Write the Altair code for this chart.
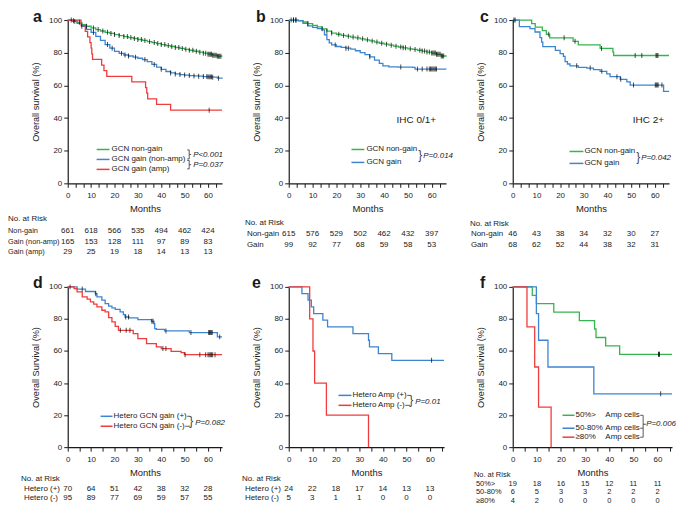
import altair as alt
import pandas as pd

FONT = "Liberation Sans, Arial, Helvetica, sans-serif"
GREEN = "#35b550"
BLUE = "#3d85d0"
RED = "#f03c3c"
INK = "#1a1a1a"

RISK_MONTHS = [0, 10, 20, 30, 40, 50, 60]
Y_TICKS = [0, 20, 40, 60, 80, 100]

# ---------------- panel a ----------------
A_NONGAIN_T = [0, 2, 4, 6, 8, 10, 12, 14, 16, 18, 20, 22, 24, 26, 28, 30, 32, 34, 36, 38,
               40, 42, 44, 46, 48, 50, 52, 54, 56, 58, 60, 62, 64, 66]
A_NONGAIN_S = [100, 99.6, 98.6, 97.2, 96.2, 95.2, 94.2, 93.3, 92.5, 91.8, 91.1, 90.5, 89.9, 89.3,
               88.7, 88.1, 87.5, 86.8, 86.2, 85.6, 85.0, 84.4, 83.8, 83.2, 82.6, 82.1, 81.5, 80.9,
               80.3, 79.7, 79.1, 78.5, 77.9, 77.7]
A_NONGAIN_C = [2.5, 5, 8, 11, 13, 15, 17, 18.5, 20, 22, 24, 25.5, 27, 28.5, 30, 31.5, 33, 35, 37,
               38.5, 40, 41.5, 43, 44.5, 46, 47.5, 49, 50.5, 52, 53.5, 55, 56.5, 58, 59, 60, 60.5,
               61, 61.5, 62, 62.5, 63, 63.5, 64, 64.5, 65, 65.5]
A_NONAMP_T = [0, 2, 4, 6, 8, 10, 12, 14, 16, 18, 20, 22, 24, 26, 28, 30, 32, 34, 36, 38,
              40, 42, 44, 46, 48, 50, 52, 54, 56, 58, 60, 62, 64, 66]
A_NONAMP_S = [100, 99.2, 98, 96.2, 94.3, 92.4, 90, 87.5, 85, 82.8, 80.8, 79.6, 78.6, 78, 77.3,
              76.6, 75.8, 74.5, 72.8, 71.2, 69.8, 68.5, 67.6, 67, 66.6, 66.3, 66, 65.8, 65.6,
              65.4, 65.2, 65, 64.4, 64]
A_NONAMP_C = [1.5, 3, 6, 11, 17, 19, 23, 24.5, 26, 29, 33, 37, 40, 44, 46, 48, 50, 52, 54, 56,
              58, 59.5, 60, 60.5, 61, 61.5, 62, 64.5]
A_AMP_T = [0, 5.7, 7.5, 8.5, 9.5, 10, 10.3, 10.6, 14.5, 15.5, 16.7, 27.4, 33.3, 33.8, 34.2, 38, 44, 66]
A_AMP_S = [100, 96.6, 93.1, 89.7, 86.2, 82.8, 79.3, 75.9, 72.4, 69.0, 65.5, 62.1, 58.6, 55.2,
           51.7, 48.3, 44.8, 44.8]
A_AMP_C = [60.5]
A_RISK_LABELS = ["Non-gain", "Gain (non-amp)", "Gain (amp)"]
A_RISK = [[661, 618, 566, 535, 494, 462, 424],
          [165, 153, 128, 111, 97, 89, 83],
          [29, 25, 19, 18, 14, 13, 13]]

# ---------------- panel b ----------------
B_NONGAIN_T = [0, 4, 6, 8, 10, 12, 14, 16, 18, 20, 22, 24, 26, 28, 30, 32, 34, 36, 38, 40,
               42, 44, 46, 48, 50, 52, 54, 56, 58, 60, 62, 64, 66]
B_NONGAIN_S = [100, 99.6, 98.8, 97.8, 96.8, 95.8, 94.6, 93.2, 92, 91.3, 90.6, 90.1, 89.6, 89.1,
               88.5, 87.9, 87.2, 86.5, 85.8, 85.2, 84.6, 84, 83.5, 83, 82.4, 82, 81.5, 81, 80.4,
               79.8, 79, 78, 77.5]
B_NONGAIN_C = [1, 2, 3, 8, 14, 16, 18, 21, 23, 25, 27, 29, 31, 33, 35, 37, 39, 41, 43, 45, 47,
               48, 49, 51, 53, 55, 56, 57, 58, 59, 60, 60.5, 61, 61.5, 62, 62.5, 63, 63.5, 64,
               64.5, 65]
B_GAIN_T = [0, 4, 6, 8, 10, 12, 14, 15, 16, 17, 18, 20, 22, 24, 26, 28, 30, 32, 34, 36, 38,
            39.5, 42, 46, 52, 53, 66]
B_GAIN_S = [100, 99.5, 98, 96.5, 95.5, 94.8, 94, 91, 88, 86, 84.8, 83.8, 83.3, 82.8, 82.2,
            81.2, 80, 78.8, 77.5, 75.5, 73.5, 72, 71.3, 71.2, 71, 70, 69.8]
B_GAIN_C = [2, 3, 19.5, 24, 25, 34, 47, 54, 56, 58, 59, 59.5, 60, 60.5, 61, 61.5, 62]
B_RISK_LABELS = ["Non-gain", "Gain"]
B_RISK = [[615, 576, 529, 502, 462, 432, 397],
          [99, 92, 77, 68, 59, 58, 53]]

# ---------------- panel c ----------------
C_NONGAIN_T = [0, 8, 9.5, 12.5, 14.2, 15.6, 25.5, 27.7, 36.9, 42.3, 42.6, 66]
C_NONGAIN_S = [100, 97.8, 95.7, 93.5, 91.3, 89.1, 87.0, 84.8, 82.6, 80.4, 78.3, 78.3]
C_NONGAIN_C = [0.5, 15.2, 21.7, 26.3, 37.5, 51.7, 54.5, 60.5, 60.9, 61.3]
C_GAIN_T = [0, 2.8, 7.3, 9.4, 11.5, 12.2, 12.7, 18, 20, 21.4, 22.1, 23.1, 24.2, 27.7, 31.3,
            34.1, 36.9, 39.7, 41.1, 45.4, 48.2, 49.6, 63.7, 66]
C_GAIN_S = [100, 96, 94.7, 92.7, 89.2, 86.5, 83.7, 81.4, 79.4, 77.8, 74.5, 73.1, 72, 71, 70.6,
            69.6, 68.6, 67, 65.3, 63.7, 62.2, 60.2, 56.3, 56.3]
C_GAIN_C = [1, 27, 32.7, 37.6, 44, 45.6, 51, 60.2, 60.6, 61, 61.4, 63]
C_RISK_LABELS = ["Non-gain", "Gain"]
C_RISK = [[46, 43, 38, 34, 32, 30, 27],
          [68, 62, 52, 44, 38, 32, 31]]

# ---------------- panel d ----------------
D_POS_T = [0, 4, 7.6, 11.8, 12.5, 14.6, 16, 17.5, 18.9, 20.3, 22.4, 23.8, 24.5, 26.2, 30,
           35.8, 36.9, 37.2, 37.9, 41.4, 52, 64, 66]
D_POS_S = [100, 98.6, 97.1, 95.7, 93.8, 91.7, 89.6, 88, 86.9, 86, 84.4, 82.7, 81.2, 80.6,
           79.6, 78.5, 77, 74, 73.5, 72.5, 71.5, 68.8, 68.8]
D_POS_C = [1, 6.2, 12, 24.8, 26, 36, 36.5, 42, 52.7, 60.3, 60.6, 61, 61.4, 61.8, 65]
D_NEG_T = [0, 2.7, 4, 6.2, 8.3, 9.7, 11.1, 12.5, 14.6, 16, 17.5, 18.9, 20.3, 21.7, 28, 30,
           33.7, 37.9, 40, 44.2, 48.5, 49.9, 66]
D_NEG_S = [100, 98.9, 96.9, 93.75, 92.3, 90.6, 89.2, 87.5, 85.4, 84.4, 80.8, 78.1, 75.4, 72.9,
           70.8, 67.7, 64.6, 62.5, 61.5, 59.8, 59, 57.7, 57.7]
D_NEG_C = [22.5, 25, 26.6, 40.7, 42, 50.2, 56.5, 59, 60, 60.5, 61, 61.5, 62, 63]
D_RISK_LABELS = ["Hetero (+)", "Hetero (-)"]
D_RISK = [[70, 64, 51, 42, 38, 32, 28],
          [95, 89, 77, 69, 59, 57, 55]]

# ---------------- panel e ----------------
E_POS_T = [0, 5.6, 8.2, 9.6, 10.6, 14.5, 16.5, 27.3, 33.9, 34.3, 38.1, 43.8, 66]
E_POS_S = [100, 95.8, 91.7, 87.5, 83.3, 79.2, 75, 70.8, 66.7, 62.5, 58.3, 54.2, 54.2]
E_POS_C = [60.7]
E_NEG_T = [0, 8.9, 10.3, 11, 16, 33.9]
E_NEG_S = [100, 80, 60, 40, 20, 0]
E_NEG_C = []
E_RISK_LABELS = ["Hetero (+)", "Hetero (-)"]
E_RISK = [[24, 22, 18, 17, 14, 13, 13],
          [5, 3, 1, 1, 0, 0, 0]]

# ---------------- panel f ----------------
F_LOW_T = [0, 8.1, 9.8, 17, 27.6, 33.9, 34.5, 38.5, 44.3, 66]
F_LOW_S = [100, 94.7, 89.5, 84.2, 78.9, 73.7, 68.4, 63.2, 57.9, 57.9]
F_LOW_C = [60.4, 60.6, 60.8]
F_MID_T = [0, 9.8, 10.7, 14.6, 33.6, 66]
F_MID_S = [100, 83.3, 66.7, 50, 33.3, 33.3]
F_MID_C = [61.3]
F_HIGH_T = [0, 5.9, 9.1, 10.7, 15.9]
F_HIGH_S = [100, 75, 50, 25, 0]
F_HIGH_C = []
F_RISK_LABELS = ["50%>", "50-80%", "\u226580%"]
F_RISK = [[19, 18, 16, 15, 12, 11, 11],
          [6, 5, 3, 3, 2, 2, 2],
          [4, 2, 0, 0, 0, 0, 0]]

DUMMY = pd.DataFrame({"d": [0]})


def step_at(T, S, t):
    v = S[0]
    for ti, si in zip(T, S):
        if ti <= t:
            v = si
    return v


def x_axis(minor):
    n = int(round(66 / minor))
    vals = [round(i * minor, 3) for i in range(n + 1) if i * minor <= 66.01]
    return alt.Axis(values=vals, labelExpr="datum.value % 10 === 0 ? datum.label : ''",
                    labelOverlap=False, title="Months", tickSize=4, labelPadding=4.5,
                    titlePadding=4, labelFontSize=8, titleFontSize=9.5, labelFlush=False)


def y_axis(title):
    return alt.Axis(values=Y_TICKS, title=title, tickSize=4, labelPadding=2, titlePadding=8,
                    labelFontSize=8, titleFontSize=9.2)


def text(x, y, s, size=8, align="left", style="normal", weight="normal", baseline="middle", color=INK):
    return alt.Chart(DUMMY).mark_text(text=s, align=align, baseline=baseline, fontSize=size, font=FONT,
                                      fontStyle=style, fontWeight=weight, color=color).encode(
        x=alt.value(x), y=alt.value(y))


def hline(x1, x2, y, color="#333333", w=0.8):
    return alt.Chart(DUMMY).mark_rule(color=color, strokeWidth=w).encode(
        x=alt.value(x1), x2=alt.value(x2), y=alt.value(y))


def vline(x, y1, y2, color="#333333", w=0.8):
    return alt.Chart(DUMMY).mark_rule(color=color, strokeWidth=w).encode(
        x=alt.value(x), y=alt.value(y1), y2=alt.value(y2))


def brace(x, y1, y2):
    """A drawn '}' between two legend rows."""
    mid = (y1 + y2) / 2
    return [hline(x - 2, x, y1 + 0.5), hline(x - 2, x, y2 - 0.5), vline(x, y1 + 0.5, y2 - 0.5),
            hline(x, x + 2, mid)]


def legend_row(x1, x2, y, color, label, tx):
    return [hline(x1, x2, y, color=color, w=1.5), text(tx, y, label)]


def panel(curves, w, h, ytitle, minor, risk_labels, risk, risk_x, title_x, title_y, row_ys, extra,
          risk_size=8, label_size=8):
    X = alt.X("t:Q", scale=alt.Scale(domain=[0, 66], nice=False, zero=False), axis=x_axis(minor))
    Y = alt.Y("s:Q", scale=alt.Scale(domain=[0, 100], nice=False), axis=y_axis(ytitle))
    lines, cens = [], []
    for name, col, T, S, C in curves:
        for t, s in zip(T, S):
            lines.append({"g": name, "col": col, "t": t, "s": s})
        for c in C:
            cens.append({"g": name, "t": c, "s": step_at(T, S, c)})
    layers = [alt.Chart(pd.DataFrame(lines)).mark_line(interpolate="step-after", strokeWidth=1.3).encode(
        x=X, y=Y, detail="g:N", color=alt.Color("col:N", scale=None))]
    if cens:
        layers.append(alt.Chart(pd.DataFrame(cens)).mark_tick(
            orient="vertical", size=5, thickness=1, color="black").encode(x=X, y=Y))
    layers.append(text(title_x, title_y, "No. at Risk", size=risk_size))
    for lab, counts, ry in zip(risk_labels, risk, row_ys):
        layers.append(text(risk_x, ry, lab, size=label_size))
        df = pd.DataFrame({"t": RISK_MONTHS, "n": counts})
        layers.append(alt.Chart(df).mark_text(fontSize=risk_size, font=FONT, color=INK, baseline="middle").encode(
            x=X, y=alt.value(ry), text="n:Q"))
    layers += extra
    return alt.layer(*layers).properties(width=w, height=h)


TOP_H = 164
BOT_H = 161
BR = "#444444"

# panel a
extra_a = [text(-35, 2, "a", size=16, weight="bold", baseline="alphabetic")]
extra_a += legend_row(29, 42, 130, GREEN, "GCN non-gain", 44)
extra_a += legend_row(29, 42, 140, BLUE, "GCN gain (non-amp)", 44)
extra_a += legend_row(29, 42, 150, RED, "GCN gain (amp)", 44)
extra_a += brace(122, 130, 140) + brace(122, 140.5, 150)
extra_a += [text(126, 136, "P<0.001", style="italic"), text(126, 146, "P=0.037", style="italic")]
pa = panel([("GCN non-gain", GREEN, A_NONGAIN_T, A_NONGAIN_S, A_NONGAIN_C),
            ("GCN gain (non-amp)", BLUE, A_NONAMP_T, A_NONAMP_S, A_NONAMP_C),
            ("GCN gain (amp)", RED, A_AMP_T, A_AMP_S, A_AMP_C)],
           155, TOP_H, "Overall survival (%)", 10 / 3, A_RISK_LABELS, A_RISK,
           -60, -60, 200, [212, 223, 233], extra_a, label_size=7.4)

# panel b
extra_b = [text(-33, 2, "b", size=16, weight="bold", baseline="alphabetic"),
           text(148, 100, "IHC 0/1+", size=10, align="right")]
extra_b += legend_row(63, 76, 130, GREEN, "GCN non-gain", 78)
extra_b += legend_row(63, 76, 143, BLUE, "GCN gain", 78)
extra_b += [text(130, 136, "}", size=12, color=BR), text(135, 137, "P=0.014", style="italic")]
pb = panel([("GCN non-gain", GREEN, B_NONGAIN_T, B_NONGAIN_S, B_NONGAIN_C),
            ("GCN gain", BLUE, B_GAIN_T, B_GAIN_S, B_GAIN_C)],
           158, TOP_H, "Overall survival (%)", 10 / 3, B_RISK_LABELS, B_RISK,
           -42, -44, 204, [215, 226], extra_b)

# panel c
extra_c = [text(-33, 2, "c", size=16, weight="bold", baseline="alphabetic"),
           text(152, 100, "IHC 2+", size=10, align="right")]
extra_c += legend_row(57, 71, 132, GREEN, "GCN non-gain", 72)
extra_c += legend_row(57, 71, 144, BLUE, "GCN gain", 72)
extra_c += [text(124, 138, "}", size=12, color=BR), text(129, 139, "P=0.042", style="italic")]
pc = panel([("GCN non-gain", GREEN, C_NONGAIN_T, C_NONGAIN_S, C_NONGAIN_C),
            ("GCN gain", BLUE, C_GAIN_T, C_GAIN_S, C_GAIN_C)],
           157, TOP_H, "Overall survival (%)", 10 / 3, C_RISK_LABELS, C_RISK,
           -42, -43, 205, [215, 226], extra_c)

# panel d
extra_d = [text(-35, 1, "d", size=16, weight="bold", baseline="alphabetic")]
extra_d += legend_row(33, 45, 130, BLUE, "Hetero GCN gain (+)", 46)
extra_d += legend_row(33, 45, 140, RED, "Hetero GCN gain (-)", 46)
extra_d += [hline(120, 123, 130), hline(118, 123, 140),
            text(122, 135, "}", size=12, color=BR), text(128, 137, "P=0.082", style="italic")]
pd_ = panel([("Hetero GCN gain (+)", BLUE, D_POS_T, D_POS_S, D_POS_C),
             ("Hetero GCN gain (-)", RED, D_NEG_T, D_NEG_S, D_NEG_C)],
            155, BOT_H, "Overall Survival (%)", 5, D_RISK_LABELS, D_RISK,
            -44, -47, 193, [203, 212], extra_d)

# panel e
extra_e = [text(-37, 1, "e", size=16, weight="bold", baseline="alphabetic")]
extra_e += legend_row(50, 63, 109, BLUE, "Hetero Amp (+)", 64)
extra_e += legend_row(50, 63, 119, RED, "Hetero Amp (-)", 64)
extra_e += [hline(119, 122, 109), hline(117, 122, 119),
            text(121, 114, "}", size=12, color=BR), text(127, 116, "P=0.01", style="italic")]
pe = panel([("Hetero Amp (+)", BLUE, E_POS_T, E_POS_S, E_POS_C),
            ("Hetero Amp (-)", RED, E_NEG_T, E_NEG_S, E_NEG_C)],
           156, BOT_H, "Overall Survival (%)", 5, E_RISK_LABELS, E_RISK,
           -44, -47, 193, [203, 212], extra_e)

# panel f
extra_f = [text(-33, 1, "f", size=16, weight="bold", baseline="alphabetic")]
extra_f += legend_row(50, 62, 129, GREEN, "50%>", 63)
extra_f += legend_row(50, 62, 142, BLUE, "50-80%", 63)
extra_f += legend_row(50, 62, 151, RED, "\u226580%", 63)
extra_f += [text(93, 129, "Amp cells"), text(93, 142, "Amp cells"), text(93, 151, "Amp cells"),
            hline(128, 131, 129), hline(128, 131, 142), hline(128, 131, 151),
            vline(131, 129, 151), hline(131, 134, 138),
            text(134, 138, "P=0.006", style="italic")]
pf = panel([("50%>", GREEN, F_LOW_T, F_LOW_S, F_LOW_C),
            ("50-80%", BLUE, F_MID_T, F_MID_S, F_MID_C),
            ("\u226580%", RED, F_HIGH_T, F_HIGH_S, F_HIGH_C)],
           160, BOT_H, "Overall Survival (%)", 5, F_RISK_LABELS, F_RISK,
           -37, -39, 189, [198, 206.5, 215], extra_f, risk_size=7.5, label_size=7.5)

chart = alt.concat(pa, pb, pc, pd_, pe, pf, columns=3, spacing={"row": 104, "column": 67},
                   bounds="flush", align="each").properties(
    padding={"left": 0, "top": 0, "right": 0, "bottom": 0}
).configure_view(stroke=None).configure_axis(
    grid=False, labelFont=FONT, titleFont=FONT, domainColor=INK, tickColor=INK,
    labelColor=INK, titleColor=INK, titleFontWeight="normal", domainWidth=1.2, tickWidth=1
)

chart.save("out.html", embed_options={"renderer": "svg", "actions": False})
